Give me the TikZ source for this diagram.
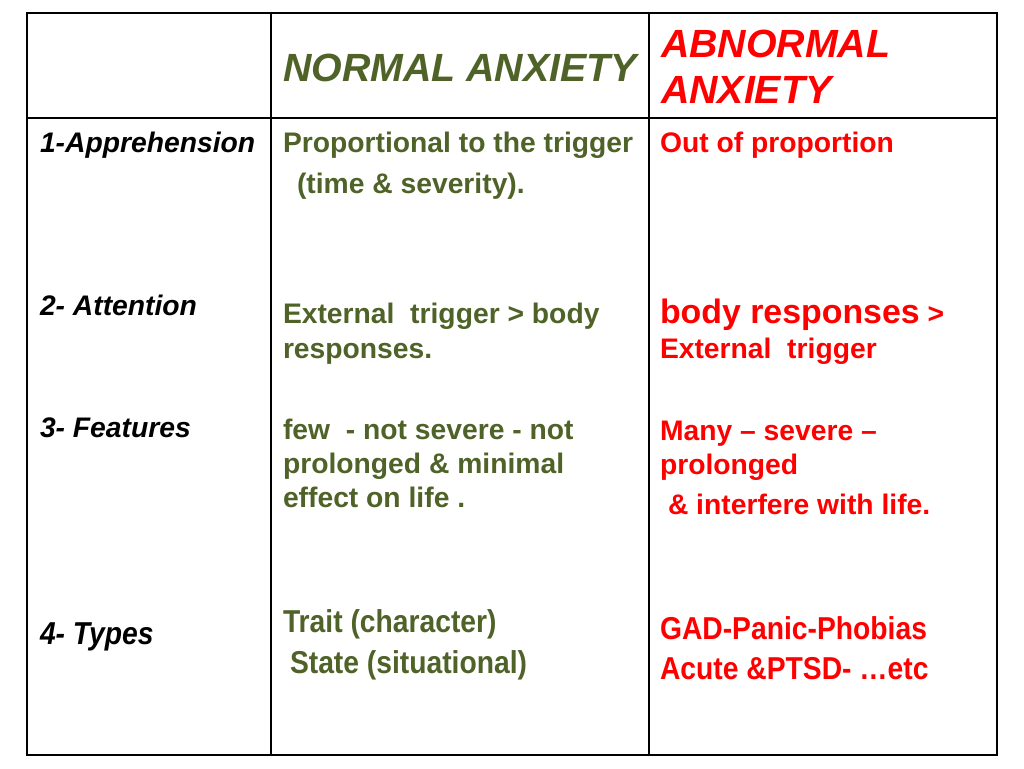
\documentclass[tikz,border=0pt]{standalone}
\usepackage{fontspec}
\setmainfont{Liberation Sans}
\usepackage{graphicx}
\usetikzlibrary{positioning}
\definecolor{verde}{RGB}{79,98,40}
\definecolor{rojo}{RGB}{255,0,0}
\newcommand{\alto}[1]{\scalebox{1}[1.12]{#1}}
\tikzset{
    celda/.style={anchor=base west, inner sep=0pt, outer sep=0pt},
    titulo/.style={celda, font=\bfseries\itshape\fontsize{29.5}{32}\selectfont},
    fila/.style={celda, font=\bfseries\itshape\fontsize{21.2}{25}\selectfont, text=black},
    normal/.style={celda, font=\bfseries\fontsize{21.2}{25}\selectfont, text=verde},
    anormal/.style={celda, font=\bfseries\fontsize{21.2}{25}\selectfont, text=rojo},
    borde/.style={line width=2.2pt, draw=black},
    rejilla/.style={line width=1pt, draw=black}}

\begin{document}
\begin{tikzpicture}[x=0.75pt, y=-0.75pt]
    \useasboundingbox (0,0) rectangle (1024,768);
    % Rejilla de la tabla
    \coordinate (so) at (27,13);
    \coordinate (ie) at (997,755);
    \coordinate (c1a) at (271,13);
    \coordinate (c1b) at (271,755);
    \coordinate (c2a) at (649,13);
    \coordinate (c2b) at (649,755);
    \coordinate (h1a) at (27,118);
    \coordinate (h1b) at (997,118);
    \draw[rejilla] (c1a) -- (c1b);
    \draw[rejilla] (c2a) -- (c2b);
    \draw[rejilla] (h1a) -- (h1b);
    \draw[borde] (so) rectangle (ie);
    % Encabezados
    \node (tnorm) [titulo, text=verde] at (283,81) {NORMAL ANXIETY};
    \node (tanor1) [titulo, text=rojo] at (661,57) {ABNORMAL};
    \node (tanor2) [titulo, text=rojo] at (661,103) {ANXIETY};
    % Primera fila
    \node (f1) [fila] at (40,152) {1-Apprehension};
    \node (n1a) [normal] at (283,152) {Proportional to the trigger};
    \node (n1b) [normal] at (297,193) {(time \& severity).};
    \node (a1a) [anormal] at (660,152) {Out of proportion};
    % Segunda fila
    \node (f2) [fila] at (40,315) {2- Attention};
    \node (n2a) [normal] at (283,323) {External~~trigger > body};
    \node (n2b) [normal] at (283,358) {responses.};
    \node (a2a) [anormal] at (660,323) {{\fontsize{25.4}{28}\selectfont body responses} >};
    \node (a2b) [anormal] at (660,358) {External~~trigger};
    % Tercera fila
    \node (f3) [fila] at (40,437) {3- Features};
    \node (n3a) [normal] at (283,439) {few~~- not severe - not};
    \node (n3b) [normal] at (283,473) {prolonged \& minimal};
    \node (n3c) [normal] at (283,507) {effect on life .};
    \node (a3a) [anormal] at (660,440) {Many – severe –};
    \node (a3b) [anormal] at (660,474) {prolonged};
    \node (a3c) [anormal] at (668,514) {\& interfere with life.};
    % Cuarta fila
    \node (f4) [fila] at (40,644) {\alto{4- Types}};
    \node (n4a) [normal] at (283,632) {\alto{Trait (character)}};
    \node (n4b) [normal] at (290,673) {\alto{State (situational)}};
    \node (a4a) [anormal] at (660,639) {\alto{GAD-Panic-Phobias}};
    \node (a4b) [anormal] at (660,679) {\alto{Acute \&PTSD- …etc}};
\end{tikzpicture}
\end{document}
